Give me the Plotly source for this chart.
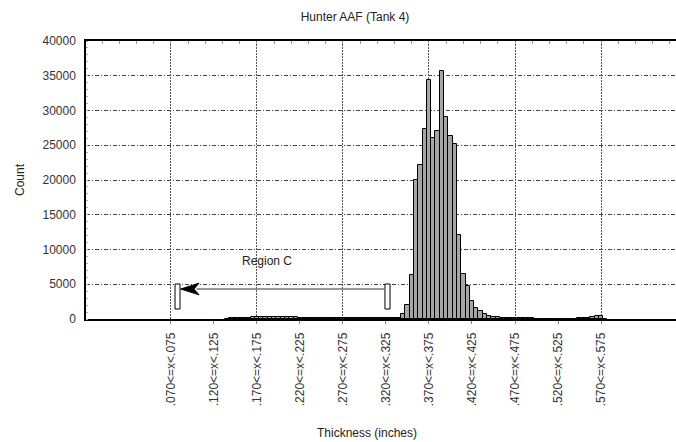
import plotly.graph_objects as go

# ---------------- data ----------------
bin_start = 0.135
bin_width = 0.005
counts = [
    60, 80, 100, 120, 150, 200, 250, 280, 300, 290,          # .135-.180
    270, 300, 280, 260, 300, 250, 220, 180, 150, 130,        # .185-.230
    200, 120, 110, 180, 130, 110, 120, 130, 120, 100,        # .235-.280
    110, 100, 120, 110, 100, 90, 100, 90, 80, 100,           # .285-.330
    200, 720, 2000, 6300, 20000, 22200, 27300, 34400, 26100, 27000,  # .335-.380
    35700, 29000, 26300, 25150, 12100, 6500, 4800, 2640, 1620, 1080, # .385-.430
    690, 420, 330, 260, 190, 140, 140, 110, 100, 100,        # .435-.480
    90, 80, 60, 40, 30, 20, 20, 20, 20, 30,                  # .485-.530
    30, 40, 80, 100, 120, 280, 470, 370, 60,                 # .535-.575
]
bin_lower = [round(bin_start + bin_width * i, 3) for i in range(len(counts))]

tick_vals = [0.07, 0.12, 0.17, 0.22, 0.27, 0.32, 0.37, 0.42, 0.47, 0.52, 0.57]
tick_text = [".070<=x<.075", ".120<=x<.125", ".170<=x<.175", ".220<=x<.225",
             ".270<=x<.275", ".320<=x<.325", ".370<=x<.375", ".420<=x<.425",
             ".470<=x<.475", ".520<=x<.525", ".570<=x<.575"]
y_ticks = [0, 5000, 10000, 15000, 20000, 25000, 30000, 35000, 40000]

# Region C annotation geometry (data units)
region_left = (0.0747, 0.0805)
region_right = (0.3188, 0.3247)
region_y = (1440, 5036)
arrow_y = 4317
arrow_tip = 0.0813
arrow_back = 0.1026
arrow_notch = 0.0967
arrow_half = 835

FONT = "Liberation Sans, Arial, sans-serif"
x_range = [-0.0288, 0.6572]

fig = go.Figure()
fig.add_trace(go.Bar(
    x=bin_lower, y=counts, width=bin_width,
    marker=dict(color="#a6a6a6", line=dict(color="#000000", width=1)),
    xaxis="x", yaxis="y", showlegend=False,
))
# invisible trace to activate top axis used for vertical grid
fig.add_trace(go.Scatter(x=[x_range[0]], y=[0], xaxis="x2", yaxis="y",
                         mode="markers", marker=dict(opacity=0),
                         showlegend=False, hoverinfo="skip"))

fig.update_layout(
    width=676, height=442,
    margin=dict(l=86, r=0, t=41, b=123),
    paper_bgcolor="white", plot_bgcolor="white",
    bargap=0,
    font=dict(family=FONT, size=12, color="#222222"),
    title=dict(text="Hunter AAF (Tank 4)", x=355 / 676, xanchor="center",
               xref="container", y=1 - 17 / 442, yanchor="middle",
               yref="container", font=dict(size=12, color="#222222")),
    xaxis=dict(
        range=x_range, tickmode="array", tickvals=tick_vals, ticktext=tick_text,
        tickangle=-90, showgrid=False, zeroline=False,
        showline=True, linecolor="#000000", linewidth=1.5,
        ticks="outside", ticklen=3, tickcolor="#888888",
        ticklabelstandoff=4,
        tickfont=dict(size=12, color="#333333"),
    ),
    xaxis2=dict(
        range=x_range, overlaying="x", side="top", anchor="y",
        tick0=0.07, dtick=0.1, showticklabels=False,
        showgrid=True, gridcolor="#555555", gridwidth=1, griddash="2px,1px",
        showline=True, linecolor="#000000", linewidth=1.5,
        ticks="inside", ticklen=3, tickcolor="#999999", zeroline=False,
        minor=dict(tick0=0.07, dtick=0.02, ticks="inside", ticklen=3,
                   tickcolor="#999999", showgrid=False),
    ),
    yaxis=dict(
        range=[0, 40000], tickvals=y_ticks, tickformat="d", showgrid=True,
        gridcolor="#444444", gridwidth=1, griddash="4px,2px,1px,2px",
        zeroline=False, showline=True, linecolor="#000000", linewidth=1.5,
        ticks="", ticklabelstandoff=6,
        tickfont=dict(size=12, color="#333333"),
        minor=dict(dtick=1000, ticks="inside", ticklen=2, tickcolor="#aaaaaa",
                   showgrid=False),
    ),
)

# Region C shapes
for (x0, x1) in (region_left, region_right):
    fig.add_shape(type="rect", xref="x", yref="y", x0=x0, x1=x1,
                  y0=region_y[0], y1=region_y[1],
                  line=dict(color="#000000", width=1), fillcolor="white",
                  layer="above")
fig.add_shape(type="line", xref="x", yref="y", x0=arrow_back - 0.003,
              x1=region_right[0], y0=arrow_y, y1=arrow_y,
              line=dict(color="#777777", width=1.5), layer="above")
fig.add_shape(type="path", xref="x", yref="y", layer="above",
              path=(f"M {arrow_tip},{arrow_y} L {arrow_back},{arrow_y + arrow_half} "
                    f"L {arrow_notch},{arrow_y} L {arrow_back},{arrow_y - arrow_half} Z"),
              fillcolor="#000000", line=dict(color="#000000", width=1))

fig.add_annotation(text="Region C", xref="x", yref="y", x=0.1816, y=8346,
                   showarrow=False, font=dict(size=12, color="#222222"))
fig.add_annotation(text="Count", xref="paper", yref="paper",
                   x=(20 - 86) / 590, y=0.5, textangle=-90, showarrow=False,
                   xanchor="center", yanchor="middle",
                   font=dict(size=12, color="#222222"))
fig.add_annotation(text="Thickness (inches)", xref="paper", yref="paper",
                   x=(367 - 86) / 590, y=(319 - 433) / 278, showarrow=False,
                   xanchor="center", yanchor="middle",
                   font=dict(size=12, color="#222222"))

fig.write_html("out.html")
